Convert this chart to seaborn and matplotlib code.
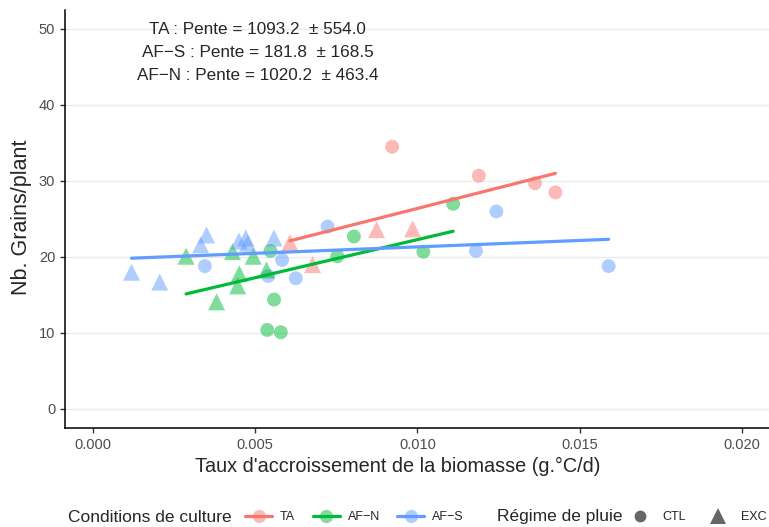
import matplotlib
matplotlib.use("Agg")
import matplotlib.pyplot as plt
from matplotlib.lines import Line2D
from matplotlib.colors import to_rgba
import seaborn as sns
import pandas as pd

# Taux d'accroissement (x) / Nb grains (y), per condition and rain regime
ta_ctl_x = [0.00922, 0.01189, 0.01362, 0.01425]
ta_ctl_y = [34.5, 30.7, 29.7, 28.5]
ta_exc_x = [0.00607, 0.00677, 0.00874, 0.00985]
ta_exc_y = [21.9, 19.0, 23.6, 23.7]

afn_ctl_x = [0.00537, 0.00547, 0.00558, 0.00579, 0.00753, 0.00804, 0.01018, 0.0111]
afn_ctl_y = [10.4, 20.8, 14.4, 10.1, 20.1, 22.7, 20.7, 27.0]
afn_exc_x = [0.00287, 0.00381, 0.0043, 0.00446, 0.00451, 0.00494, 0.00535]
afn_exc_y = [20.1, 14.1, 20.7, 16.2, 17.8, 20.1, 18.3]

afs_ctl_x = [0.00345, 0.0054, 0.00583, 0.00625, 0.00723, 0.0118, 0.01243, 0.01589]
afs_ctl_y = [18.8, 17.5, 19.6, 17.2, 24.0, 20.8, 26.0, 18.8]
afs_exc_x = [0.00119, 0.00206, 0.00332, 0.0035, 0.0045, 0.00471, 0.00477, 0.00558]
afs_exc_y = [18.0, 16.7, 21.6, 22.9, 22.1, 22.5, 21.8, 22.5]

conditions = ["TA", "AF-N", "AF-S"]
cond_labels = ["TA", "AF\u2212N", "AF\u2212S"]
regimes = ["CTL", "EXC"]
slope_labels = ["TA : Pente = 1093.2  \u00b1 554.0",
                "AF\u2212S : Pente = 181.8  \u00b1 168.5",
                "AF\u2212N : Pente = 1020.2  \u00b1 463.4"]

palette = {"TA": "#F8766D", "AF-N": "#00BA38", "AF-S": "#619CFF"}

rows = []
groups = [("TA", "CTL", ta_ctl_x, ta_ctl_y), ("TA", "EXC", ta_exc_x, ta_exc_y),
          ("AF-N", "CTL", afn_ctl_x, afn_ctl_y), ("AF-N", "EXC", afn_exc_x, afn_exc_y),
          ("AF-S", "CTL", afs_ctl_x, afs_ctl_y), ("AF-S", "EXC", afs_exc_x, afs_exc_y)]
for cond, reg, xs, ys in groups:
    for x, y in zip(xs, ys):
        rows.append({"taux": x, "grains": y, "cond": cond, "regime": reg})
df = pd.DataFrame(rows)

sns.set_style("white")
plt.rcParams["font.family"] = ["Liberation Sans", "DejaVu Sans"]

fig = plt.figure(figsize=(7.69, 5.27), dpi=100)
ax = fig.add_axes([65 / 769, 1 - 428 / 527, 704 / 769, 418 / 527])

# circles and triangles drawn separately so triangles can be a bit bigger
sns.scatterplot(data=df[df["regime"] == "CTL"], x="taux", y="grains", hue="cond",
                hue_order=conditions, palette=palette, marker="o", s=100, alpha=0.5,
                linewidth=0, legend=False, ax=ax, zorder=3)
sns.scatterplot(data=df[df["regime"] == "EXC"], x="taux", y="grains", hue="cond",
                hue_order=conditions, palette=palette, marker="^", s=150, alpha=0.5,
                linewidth=0, legend=False, ax=ax, zorder=3)

for cond in conditions:
    sub = df[df["cond"] == cond]
    sns.regplot(data=sub, x="taux", y="grains", scatter=False, ci=None,
                color=palette[cond], line_kws={"linewidth": 2.3, "zorder": 4}, ax=ax)

ax.set_xlim(-0.00086, 0.02083)
ax.set_ylim(-2.5, 52.5)
ax.set_xticks([0.0, 0.005, 0.01, 0.015, 0.02])
ax.set_xticklabels(["0.000", "0.005", "0.010", "0.015", "0.020"])
ax.set_yticks([0, 10, 20, 30, 40, 50])
ax.yaxis.grid(True, color="#EBEBEB", linewidth=1)
ax.xaxis.grid(False)
ax.set_axisbelow(True)
for side in ["top", "right"]:
    ax.spines[side].set_visible(False)
for side in ["left", "bottom"]:
    ax.spines[side].set_color("black")
    ax.spines[side].set_linewidth(1.1)
ax.tick_params(axis="both", which="both", direction="out", length=3.5, width=1,
               color="#333333", labelcolor="#4D4D4D", labelsize=10.5, bottom=True, left=True)
ax.set_xlabel("")
ax.set_ylabel("")

fig.text(398 / 769, 1 - 466 / 527, "Taux d'accroissement de la biomasse (g.\u00b0C/d)",
         ha="center", va="center", fontsize=14.3)
fig.text(22 / 769, 1 - 217 / 527, "Nb. Grains/plant", ha="center", va="center",
         rotation=90, fontsize=15.5)

for i, lab in enumerate(slope_labels):
    ax.text(0.00508, 49.9 - 3.0 * i, lab, ha="center", va="center", fontsize=12.3)

# legend along the bottom
ly = 1 - 517 / 527
fig.text(68 / 769, ly, "Conditions de culture", ha="left", va="center", fontsize=12.5)
cond_handles = [Line2D([], [], color=palette[c], linewidth=2.3, marker="o", markersize=9.5,
                       markerfacecolor=to_rgba(palette[c], 0.5), markeredgewidth=0)
                for c in conditions]
fig.legend(cond_handles, cond_labels, ncol=3, frameon=False,
           loc="center left", bbox_to_anchor=(245 / 769, ly), fontsize=9,
           borderaxespad=0, borderpad=0,
           handlelength=2.16, columnspacing=1.4, handletextpad=0.64)
fig.text(497 / 769, ly, "R\u00e9gime de pluie", ha="left", va="center", fontsize=12.5)
reg_handles = [Line2D([], [], linestyle="none", marker=m, markersize=ms, color="#666666",
                      markeredgewidth=0) for m, ms in [("o", 8.5), ("^", 11)]]
fig.legend(reg_handles, regimes, ncol=2, frameon=False, loc="center left",
           bbox_to_anchor=(631 / 769, ly), fontsize=9, borderaxespad=0, borderpad=0,
           handlelength=1.4, columnspacing=1.9, handletextpad=1.1)

fig.savefig("out.png", dpi=100)
